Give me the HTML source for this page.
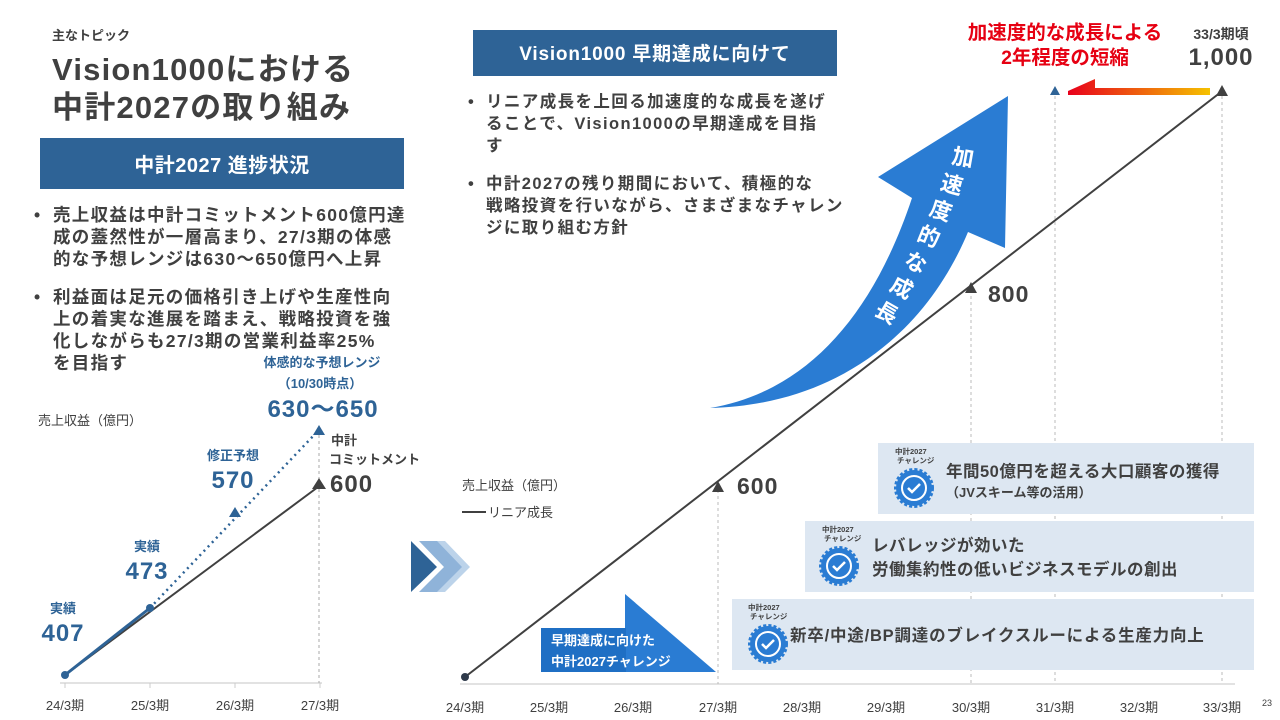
<!DOCTYPE html>
<html><head><meta charset="utf-8"><style>
html,body{margin:0;padding:0;background:#fff;}
svg{display:block;font-family:"Liberation Sans","Noto Sans CJK JP",sans-serif;font-weight:bold;}
</style></head><body>
<svg width="1280" height="720" viewBox="0 0 1280 720">
<!-- LEFT header -->
<text x="52" y="40" font-size="13" fill="#404040">主なトピック</text>
<text x="52" y="80" font-size="31" fill="#404040" letter-spacing="1.2">Vision1000における</text>
<text x="52" y="118" font-size="31" fill="#404040" letter-spacing="1.2">中計2027の取り組み</text>
<rect x="40" y="138" width="364" height="51" fill="#2e6396"/>
<text x="222" y="172" font-size="20" fill="#fff" text-anchor="middle" letter-spacing="0.5">中計2027 進捗状況</text>
<g font-size="17.5" fill="#404040" letter-spacing="1.3">
<text x="34" y="221">•</text>
<text x="53" y="221">売上収益は中計コミットメント600億円達</text>
<text x="53" y="243">成の蓋然性が一層高まり、27/3期の体感</text>
<text x="53" y="265">的な予想レンジは630～650億円へ上昇</text>
<text x="34" y="303">•</text>
<text x="53" y="303">利益面は足元の価格引き上げや生産性向</text>
<text x="53" y="325">上の着実な進展を踏まえ、戦略投資を強</text>
<text x="53" y="347">化しながらも27/3期の営業利益率25%</text>
<text x="53" y="369">を目指す</text>
</g>
<!-- left chart -->
<text x="38" y="425" font-size="13" font-weight="normal" fill="#404040">売上収益（億円）</text>
<line x1="60" y1="683" x2="322" y2="683" stroke="#d8d8d8" stroke-width="1.5"/>
<g stroke="#ccc" stroke-width="1"><line x1="65" y1="683" x2="65" y2="688"/><line x1="150" y1="683" x2="150" y2="688"/><line x1="235" y1="683" x2="235" y2="688"/><line x1="320" y1="683" x2="320" y2="688"/></g>
<line x1="319" y1="435" x2="319" y2="683" stroke="#aaa" stroke-dasharray="3,3"/>
<line x1="150" y1="608" x2="316" y2="433" stroke="#2e6396" stroke-width="2.5" stroke-dasharray="2,4"/>
<line x1="65" y1="675" x2="318" y2="487" stroke="#404040" stroke-width="2"/>
<line x1="65" y1="675" x2="150" y2="608" stroke="#2e6396" stroke-width="3"/>
<circle cx="65" cy="675" r="4" fill="#2e6396"/><circle cx="150" cy="608" r="4" fill="#2e6396"/>
<polygon points="235,507 229,517 241,517" fill="#2e6396"/>
<polygon points="319,425 313,435 325,435" fill="#2e6396"/>
<polygon points="319,478 312,489 326,489" fill="#404040"/>
<g font-size="13" fill="#2e6396" text-anchor="middle">
<text x="63" y="613">実績</text><text x="147" y="551">実績</text><text x="233" y="460">修正予想</text>
<text x="322" y="367">体感的な予想レンジ</text><text x="320" y="388">（10/30時点）</text>
</g>
<g font-size="24" fill="#2e6396" text-anchor="middle" letter-spacing="1">
<text x="63" y="641">407</text><text x="147" y="579">473</text><text x="233" y="488">570</text><text x="323" y="417">630～650</text>
</g>
<text x="331" y="445" font-size="13" fill="#404040">中計</text>
<text x="329" y="464" font-size="13" fill="#404040">コミットメント</text>
<text x="330" y="492" font-size="24" fill="#404040" letter-spacing="1">600</text>
<g font-size="13" font-weight="normal" fill="#404040" text-anchor="middle">
<text x="65" y="710">24/3期</text><text x="150" y="710">25/3期</text><text x="235" y="710">26/3期</text><text x="320" y="710">27/3期</text>
</g>
<!-- chevrons -->
<polygon points="427,541 445,541 470,567 445,592 427,592 452,567" fill="#bcd3ea"/>
<polygon points="419,541 437,541 462,567 437,592 419,592 444,567" fill="#8fb3d9"/>
<polygon points="411,541 411,592 437,567" fill="#2e6396"/>
<!-- RIGHT header -->
<rect x="473" y="30" width="364" height="46" fill="#2e6396"/>
<text x="655" y="60" font-size="19" fill="#fff" text-anchor="middle" letter-spacing="0.8">Vision1000 早期達成に向けて</text>
<g font-size="16.5" fill="#404040" letter-spacing="1.4">
<text x="468" y="107">•</text>
<text x="486" y="107">リニア成長を上回る加速度的な成長を遂げ</text>
<text x="486" y="129">ることで、Vision1000の早期達成を目指</text>
<text x="486" y="151">す</text>
<text x="468" y="189">•</text>
<text x="486" y="189">中計2027の残り期間において、積極的な</text>
<text x="486" y="211">戦略投資を行いながら、さまざまなチャレン</text>
<text x="486" y="233">ジに取り組む方針</text>
</g>
<!-- right chart grid -->
<line x1="460" y1="684" x2="1235" y2="684" stroke="#d8d8d8" stroke-width="1.5"/>
<g stroke="#bbb" stroke-dasharray="3,3">
<line x1="718" y1="490" x2="718" y2="684"/><line x1="971" y1="290" x2="971" y2="684"/>
<line x1="1055" y1="96" x2="1055" y2="684"/><line x1="1222" y1="96" x2="1222" y2="684"/>
</g>
<!-- right text labels -->
<text x="462" y="490" font-size="13" font-weight="normal" fill="#404040">売上収益（億円）</text>
<line x1="462" y1="512" x2="486" y2="512" stroke="#404040" stroke-width="2"/>
<text x="488" y="517" font-size="13" font-weight="normal" fill="#404040">リニア成長</text>
<!-- big curved arrow -->
<path d="M710,408 C805,392 872,318 912,198 L878,177 L1008,96 L1005,248 L968,232 C925,335 835,405 710,408 Z" fill="#2a7cd3"/>
<g font-size="22" fill="#fff">
<text x="952" y="165" transform="rotate(10 962 157)">加</text>
<text x="941" y="192" transform="rotate(15 951 184)">速</text>
<text x="930" y="218" transform="rotate(18 940 210)">度</text>
<text x="918" y="244" transform="rotate(22 928 236)">的</text>
<text x="905" y="270" transform="rotate(25 915 262)">な</text>
<text x="891" y="295" transform="rotate(28 901 287)">成</text>
<text x="876" y="320" transform="rotate(30 886 312)">長</text>
</g>
<!-- linear line -->
<line x1="465" y1="677" x2="1221" y2="92" stroke="#404040" stroke-width="2"/>
<circle cx="465" cy="677" r="4" fill="#2e3a4a"/>
<polygon points="718,481 712,492 724,492" fill="#404040"/>
<polygon points="971,282 965,293 977,293" fill="#404040"/>
<polygon points="1222,85 1216,96 1228,96" fill="#404040"/>
<polygon points="1055,86 1050,95 1060,95" fill="#2e6396"/>
<text x="737" y="494" font-size="23" fill="#404040" letter-spacing="1">600</text>
<text x="988" y="302" font-size="23" fill="#404040" letter-spacing="1">800</text>
<!-- red arrow -->
<defs><linearGradient id="g1" x1="0" x2="1"><stop offset="0" stop-color="#e8001c"/><stop offset="1" stop-color="#f5c200"/></linearGradient></defs>
<polygon points="1068,91 1095,79 1095,88 1210,88 1210,95 1068,95" fill="url(#g1)"/>
<text x="1065" y="39" font-size="19.5" fill="#e60012" text-anchor="middle">加速度的な成長による</text>
<text x="1065" y="64" font-size="19.5" fill="#e60012" text-anchor="middle">2年程度の短縮</text>
<text x="1221" y="39" font-size="14" fill="#404040" text-anchor="middle">33/3期頃</text>
<text x="1221" y="65" font-size="24" fill="#404040" text-anchor="middle" letter-spacing="1">1,000</text>
<!-- early box -->
<polygon points="625,594 716,672 625,672" fill="#2a7cd3"/>
<rect x="541" y="628" width="85" height="44" fill="#1f6fc4"/>
<text x="551" y="645" font-size="13" fill="#fff">早期達成に向けた</text>
<text x="551" y="666" font-size="13" fill="#fff">中計2027チャレンジ</text>
<!-- challenge boxes -->
<g>
<rect x="878" y="443" width="376" height="71" fill="#dde7f2"/>
<rect x="805" y="521" width="449" height="71" fill="#dde7f2"/>
<rect x="732" y="599" width="522" height="71" fill="#dde7f2"/>
</g>
<g font-size="7.5" fill="#404040">
<text x="895" y="454">中計2027</text><text x="897" y="463">チャレンジ</text>
<text x="822" y="532">中計2027</text><text x="824" y="541">チャレンジ</text>
<text x="748" y="610">中計2027</text><text x="750" y="619">チャレンジ</text>
</g>
<g>
<circle cx="914" cy="488" r="18" fill="#2a7cd3" stroke="#2a7cd3" stroke-width="4" stroke-dasharray="3,2"/>
<circle cx="914" cy="488" r="12" fill="none" stroke="#fff" stroke-width="2"/>
<polyline points="908,488 912,492 920,484" fill="none" stroke="#fff" stroke-width="2.5"/>
<circle cx="839" cy="566" r="18" fill="#2a7cd3" stroke="#2a7cd3" stroke-width="4" stroke-dasharray="3,2"/>
<circle cx="839" cy="566" r="12" fill="none" stroke="#fff" stroke-width="2"/>
<polyline points="833,566 837,570 845,562" fill="none" stroke="#fff" stroke-width="2.5"/>
<circle cx="768" cy="644" r="18" fill="#2a7cd3" stroke="#2a7cd3" stroke-width="4" stroke-dasharray="3,2"/>
<circle cx="768" cy="644" r="12" fill="none" stroke="#fff" stroke-width="2"/>
<polyline points="762,644 766,648 774,640" fill="none" stroke="#fff" stroke-width="2.5"/>
</g>
<g fill="#404040">
<text x="946" y="477" font-size="16.5" letter-spacing="0.5">年間50億円を超える大口顧客の獲得</text>
<text x="946" y="497" font-size="13">（JVスキーム等の活用）</text>
<text x="872" y="551" font-size="16.5" letter-spacing="0.5">レバレッジが効いた</text>
<text x="872" y="575" font-size="16.5" letter-spacing="0.5">労働集約性の低いビジネスモデルの創出</text>
<text x="790" y="641" font-size="16.5" letter-spacing="0.8">新卒/中途/BP調達のブレイクスルーによる生産力向上</text>
</g>
<g font-size="13" font-weight="normal" fill="#404040" text-anchor="middle">
<text x="465" y="712">24/3期</text><text x="549" y="712">25/3期</text><text x="633" y="712">26/3期</text><text x="718" y="712">27/3期</text><text x="802" y="712">28/3期</text><text x="886" y="712">29/3期</text><text x="971" y="712">30/3期</text><text x="1055" y="712">31/3期</text><text x="1139" y="712">32/3期</text><text x="1222" y="712">33/3期</text>
</g>
<text x="1262" y="706" font-size="9" font-weight="normal" fill="#404040">23</text>
</svg>
</body></html>
